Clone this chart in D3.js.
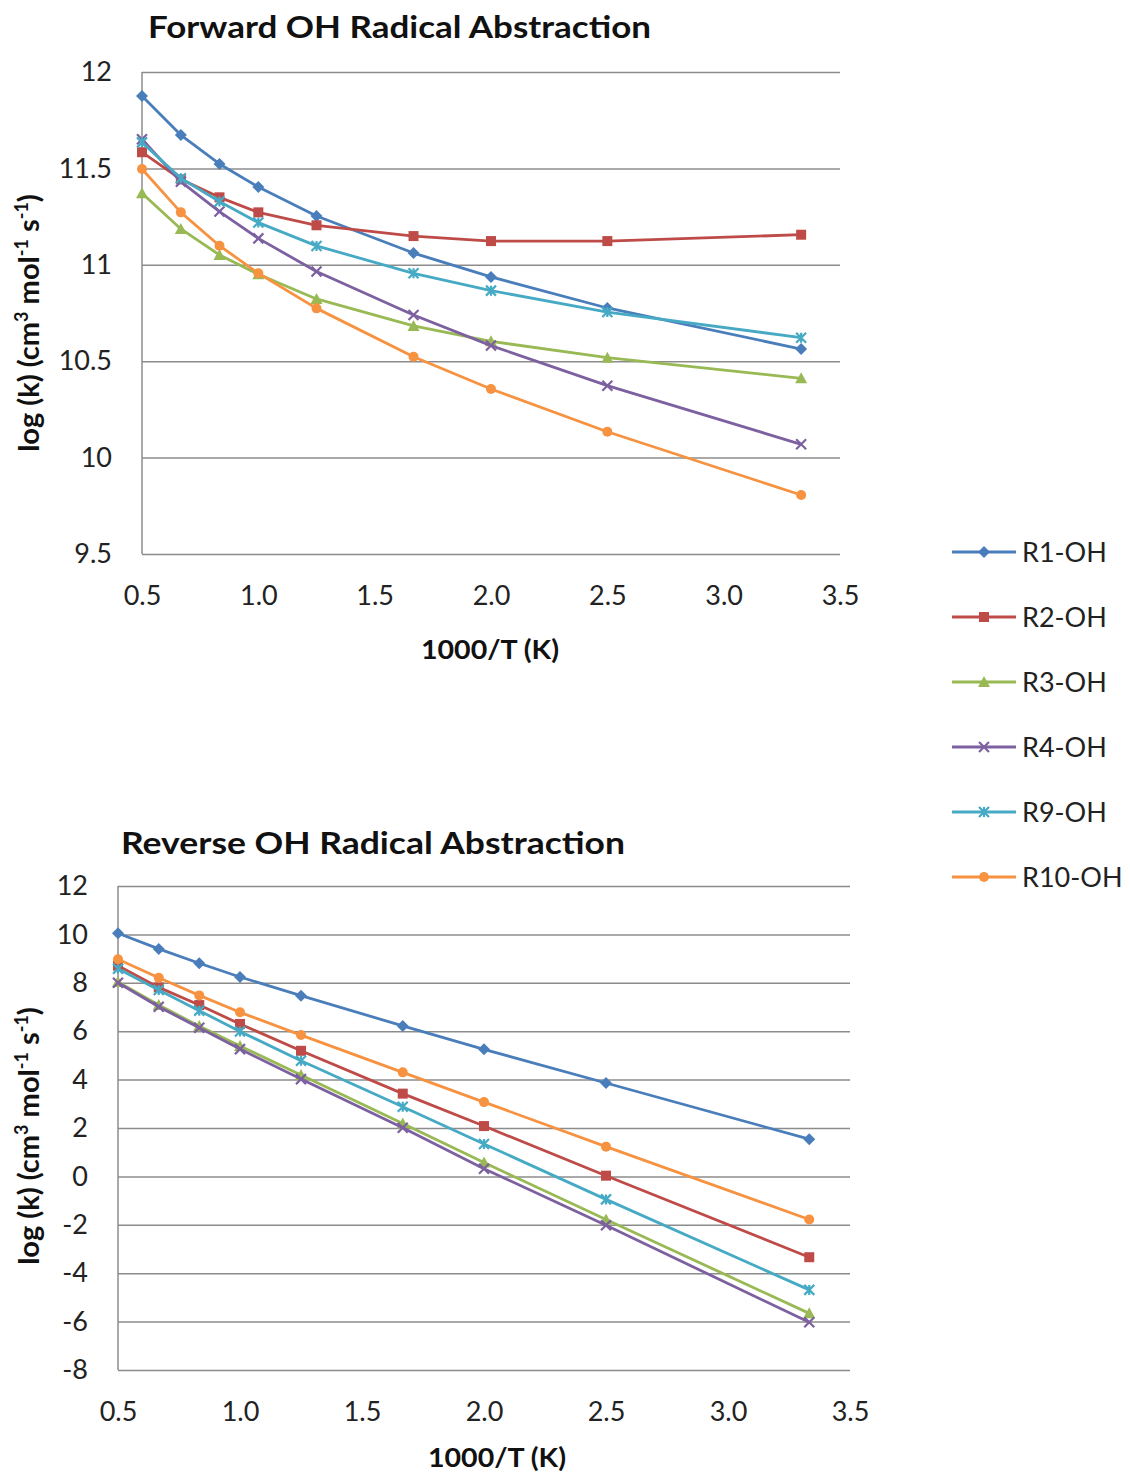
<!DOCTYPE html>
<html><head><meta charset="utf-8">
<script src="https://cdn.jsdelivr.net/npm/d3@7"></script>
<style>body{margin:0;background:#fff}svg{display:block}text{font-family:Lato,"Open Sans",sans-serif}</style>
</head><body>
<svg id="c" width="1130" height="1474"></svg>
<script>
const xVals = [0.5, 0.667, 0.833, 1.0, 1.25, 1.667, 2.0, 2.5, 3.333];
const seriesNames = ["R1-OH","R2-OH","R3-OH","R4-OH","R9-OH","R10-OH"];
const colors = ["#4A7EBB","#BE4B48","#98B954","#7D60A0","#46AAC5","#F69240"];
const markerTypes = ["diamond","square","triangle","x","star","circle"];
// Forward
const fR1 = [11.876,11.673,11.523,11.404,11.253,11.061,10.937,10.776,10.563];
const fR2 = [11.584,11.443,11.350,11.272,11.205,11.149,11.123,11.123,11.156];
const fR3 = [11.371,11.186,11.051,10.951,10.823,10.683,10.603,10.518,10.411];
const fR4 = [11.651,11.431,11.276,11.137,10.965,10.740,10.581,10.373,10.069];
const fR9 = [11.635,11.449,11.328,11.219,11.098,10.956,10.866,10.755,10.622];
const fR10 = [11.497,11.272,11.099,10.956,10.774,10.523,10.356,10.134,9.806];
// Reverse
const rR1 = [10.05,9.40,8.81,8.24,7.47,6.22,5.25,3.86,1.54];
const rR2 = [8.71,7.81,7.08,6.30,5.19,3.42,2.08,0.03,-3.34];
const rR3 = [8.03,7.08,6.21,5.39,4.19,2.19,0.57,-1.78,-5.66];
const rR4 = [8.00,7.01,6.14,5.26,4.02,2.01,0.32,-2.02,-6.03];
const rR9 = [8.58,7.70,6.85,5.99,4.78,2.88,1.34,-0.95,-4.69];
const rR10 = [8.97,8.21,7.48,6.78,5.84,4.30,3.07,1.23,-1.78];
const xTicks = [0.5,1.0,1.5,2.0,2.5,3.0,3.5];
const yTicksF = [9.5,10,10.5,11,11.5,12];
const yTicksR = [-8,-6,-4,-2,0,2,4,6,8,10,12];

const svg = d3.select("#c");

function marker(g, type, color, x, y) {
  const s = 5;
  if (type === "diamond") g.append("path").attr("d",`M${x},${y-s-1}L${x+s+1},${y}L${x},${y+s+1}L${x-s-1},${y}Z`).attr("fill",color);
  else if (type === "square") g.append("rect").attr("x",x-s).attr("y",y-s).attr("width",2*s).attr("height",2*s).attr("fill",color);
  else if (type === "triangle") g.append("path").attr("d",`M${x},${y-s-1}L${x+s+1},${y+s}L${x-s-1},${y+s}Z`).attr("fill",color);
  else if (type === "circle") g.append("circle").attr("cx",x).attr("cy",y).attr("r",s).attr("fill",color);
  else if (type === "x") g.append("path").attr("d",`M${x-s},${y-s}L${x+s},${y+s}M${x-s},${y+s}L${x+s},${y-s}`).attr("stroke",color).attr("stroke-width",2.2);
  else if (type === "star") g.append("path").attr("d",`M${x-s},${y-s}L${x+s},${y+s}M${x-s},${y+s}L${x+s},${y-s}M${x},${y-s}L${x},${y+s}`).attr("stroke",color).attr("stroke-width",2.2);
}

function chart(cfg) {
  const x = d3.scaleLinear().domain([0.5,3.5]).range([cfg.left, cfg.right]);
  const y = d3.scaleLinear().domain(cfg.yDomain).range([cfg.bottom, cfg.top]);
  const g = svg.append("g");
  // gridlines
  g.append("g").attr("transform",`translate(${cfg.left},0)`)
    .call(d3.axisLeft(y).tickValues(cfg.yTicks).tickSize(-(cfg.right-cfg.left)).tickFormat(d => String(d)))
    .call(a => a.select(".domain").remove())
    .call(a => a.selectAll("line").attr("stroke","#8c8c8c").attr("stroke-width",1.5))
    .call(a => a.selectAll("text").attr("x",-cfg.labelGap).attr("font-size",27).attr("fill","#222").attr("font-family","Lato, sans-serif"));
  // left axis line
  g.append("line").attr("x1",cfg.left).attr("x2",cfg.left).attr("y1",cfg.top).attr("y2",cfg.bottom).attr("stroke","#8c8c8c").attr("stroke-width",1.5);
  // x axis labels
  g.append("g").attr("transform",`translate(0,${cfg.bottom})`)
    .call(d3.axisBottom(x).tickValues(xTicks).tickSize(0).tickPadding(32).tickFormat(d3.format(".1f")))
    .call(a => a.select(".domain").remove())
    .call(a => a.selectAll("text").attr("font-size",27).attr("fill","#222").attr("font-family","Lato, sans-serif"));
  // series
  const line = d3.line().x((d,i)=>x(xVals[i])).y(d=>y(d));
  cfg.data.forEach((vals, k) => {
    g.append("path").attr("d", line(vals)).attr("fill","none").attr("stroke",colors[k]).attr("stroke-width",2.8).attr("stroke-linejoin","round");
    vals.forEach((v,i) => marker(g, markerTypes[k], colors[k], x(xVals[i]), y(v)));
  });
  // title
  svg.append("text").attr("x",cfg.titleX).attr("y",cfg.titleY).attr("font-size",31).attr("font-weight","bold").attr("fill","#111")
    .attr("textLength",cfg.titleLen).attr("lengthAdjust","spacingAndGlyphs").text(cfg.title);
  // x title
  svg.append("text").attr("x",cfg.xtX).attr("y",cfg.xtY).attr("text-anchor","middle").attr("font-size",27).attr("font-weight","bold").attr("fill","#111")
    .attr("textLength",138).attr("lengthAdjust","spacingAndGlyphs").text("1000/T (K)");
  // y title
  const yt = svg.append("text").attr("transform",`translate(${cfg.ytX},${cfg.ytY}) rotate(-90)`).attr("text-anchor","middle")
    .attr("font-size",29).attr("font-weight","bold").attr("fill","#111");
  yt.append("tspan").text("log (k) (cm");
  yt.append("tspan").attr("baseline-shift","super").attr("font-size",18).text("3");
  yt.append("tspan").text(" mol");
  yt.append("tspan").attr("baseline-shift","super").attr("font-size",18).text("-1");
  yt.append("tspan").text(" s");
  yt.append("tspan").attr("baseline-shift","super").attr("font-size",18).text("-1");
  yt.append("tspan").text(")");
}

chart({left:142,right:840,top:72,bottom:554,yDomain:[9.5,12],yTicks:yTicksF,labelGap:30,
  data:[fR1,fR2,fR3,fR4,fR9,fR10],title:"Forward OH Radical  Abstraction",titleX:148,titleY:38,titleLen:503,
  xtX:490,xtY:659,ytX:39,ytY:323});
chart({left:118,right:850,top:886,bottom:1370,yDomain:[-8,12],yTicks:yTicksR,labelGap:30,
  data:[rR1,rR2,rR3,rR4,rR9,rR10],title:"Reverse OH Radical  Abstraction",titleX:121,titleY:854,titleLen:504,
  xtX:497,xtY:1467,ytX:39,ytY:1136});

// legend
const leg = svg.append("g");
seriesNames.forEach((n,k) => {
  const yy = 552 + k*65;
  leg.append("line").attr("x1",952).attr("x2",1016).attr("y1",yy).attr("y2",yy).attr("stroke",colors[k]).attr("stroke-width",2.8);
  marker(leg, markerTypes[k], colors[k], 984, yy);
  leg.append("text").attr("x",1022).attr("y",yy+10).attr("font-size",27).attr("fill","#222").text(n);
});
</script>
</body></html>
